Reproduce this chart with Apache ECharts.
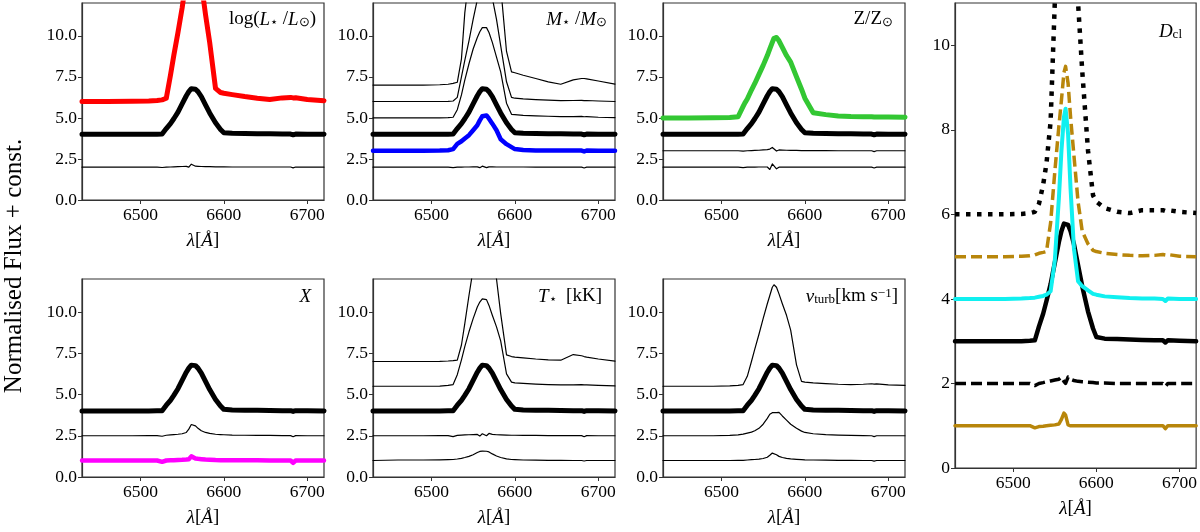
<!DOCTYPE html>
<html>
<head>
<meta charset="utf-8">
<script src="https://cdn.jsdelivr.net/npm/echarts@6/dist/echarts.min.js"></script>
<style>
  html, body { margin: 0; padding: 0; background: #fff; }
  #main { width: 1200px; height: 532px; }
</style>
</head>
<body>
<div id="main"></div>
<script>
// wavelength grid (Angstrom) shared by every profile
var wavelength = [6430, 6460, 6490, 6510, 6520, 6526, 6528, 6531, 6536, 6540, 6545, 6550, 6555, 6558, 6561, 6563, 6566, 6569, 6573, 6578, 6583, 6590, 6596, 6600, 6610, 6625, 6640, 6655, 6670, 6680, 6683, 6686, 6700, 6720];

// normalised flux of the reference model (thick black in every panel)
var baseModel  = [1.00, 1.00, 1.00, 1.00, 1.01, 1.02, 1.05, 1.35, 1.65, 1.95, 2.35, 2.85, 3.35, 3.60, 3.78, 3.80, 3.75, 3.60, 3.30, 2.80, 2.30, 1.70, 1.30, 1.10, 1.06, 1.05, 1.04, 1.03, 1.02, 1.02, 0.97, 1.02, 1.01, 1.00];

// log L
var lumHigh    = [1.00, 1.00, 1.01, 1.03, 1.06, 1.10, 1.13, 1.20, 2.60, 3.80, 5.20, 6.70, 8.50, 9.50, 10.2, 10.5, 10.2, 9.50, 8.20, 6.30, 4.60, 1.80, 1.55, 1.50, 1.42, 1.30, 1.20, 1.12, 1.22, 1.25, 1.22, 1.23, 1.12, 1.05];
var lumLow     = [1.00, 1.00, 1.00, 1.00, 1.00, 0.98, 0.96, 1.00, 1.01, 1.02, 1.03, 1.04, 1.05, 1.00, 1.18, 1.15, 1.06, 1.05, 1.04, 1.03, 1.03, 1.02, 1.02, 1.02, 1.01, 1.01, 1.01, 1.01, 1.01, 1.01, 0.96, 1.01, 1.00, 1.00];

// M
var massA      = [1.00, 1.00, 1.00, 1.02, 1.05, 1.10, 1.13, 1.17, 2.60, 5.40, 7.50, 9.00, 10.0, 10.5, 10.8, 10.9, 10.8, 10.5, 10.0, 9.00, 7.00, 3.05, 1.80, 1.75, 1.60, 1.40, 1.20, 1.05, 1.32, 1.40, 1.40, 1.38, 1.25, 1.06];
var massB      = [1.00, 1.00, 1.00, 1.00, 1.01, 1.03, 1.05, 1.25, 2.50, 3.50, 4.70, 6.00, 7.20, 8.00, 8.50, 8.60, 8.40, 8.00, 7.30, 6.00, 4.40, 2.20, 1.25, 1.20, 1.16, 1.12, 1.08, 1.05, 1.06, 1.07, 1.05, 1.06, 1.03, 1.00];
var massC      = [1.00, 1.00, 1.00, 1.00, 1.02, 1.04, 1.10, 1.50, 2.40, 3.30, 4.30, 5.20, 5.90, 6.25, 6.50, 6.55, 6.50, 6.20, 5.60, 4.70, 3.80, 1.90, 1.22, 1.20, 1.16, 1.13, 1.10, 1.08, 1.08, 1.09, 1.07, 1.08, 1.04, 1.02];
var massLowBlue= [1.00, 1.00, 1.00, 1.01, 1.03, 1.10, 1.20, 1.42, 1.58, 1.75, 1.95, 2.25, 2.55, 2.85, 3.10, 3.20, 3.15, 2.95, 2.65, 2.25, 1.70, 1.40, 1.22, 1.10, 1.04, 1.02, 1.01, 1.01, 1.01, 1.01, 0.96, 1.01, 1.00, 1.00];
var massLow    = [1.00, 1.00, 1.00, 1.00, 1.00, 0.97, 0.96, 1.00, 1.00, 1.01, 1.01, 1.02, 1.02, 0.97, 1.06, 1.02, 0.97, 1.02, 1.02, 1.01, 1.01, 1.01, 1.01, 1.01, 1.01, 1.00, 1.00, 1.00, 1.00, 1.00, 0.95, 1.00, 1.00, 1.00];

// Z
var zHigh      = [1.00, 1.00, 1.01, 1.02, 1.07, 1.70, 1.90, 2.15, 2.70, 3.10, 3.65, 4.20, 4.80, 5.20, 5.60, 5.85, 5.90, 5.70, 5.30, 4.80, 4.40, 3.50, 2.75, 2.20, 1.32, 1.20, 1.12, 1.08, 1.07, 1.07, 1.05, 1.06, 1.05, 1.04];
var zMid       = [1.00, 1.00, 1.00, 1.00, 1.00, 0.98, 0.97, 1.00, 1.01, 1.02, 1.03, 1.05, 1.07, 1.10, 1.20, 1.12, 0.98, 1.05, 1.04, 1.03, 1.02, 1.02, 1.01, 1.01, 1.01, 1.01, 1.00, 1.00, 1.00, 1.00, 0.95, 1.00, 1.00, 1.00];
var zLow       = [1.00, 1.00, 1.00, 1.00, 1.00, 0.97, 0.96, 1.00, 1.00, 1.00, 1.01, 1.01, 1.01, 0.86, 1.20, 1.12, 0.90, 1.00, 1.00, 1.00, 1.00, 1.00, 1.00, 1.00, 1.00, 1.00, 1.00, 1.00, 1.00, 1.00, 0.95, 1.00, 1.00, 1.00];

// X
var xMid       = [1.00, 1.00, 1.00, 1.01, 1.01, 0.97, 0.95, 1.03, 1.05, 1.07, 1.09, 1.12, 1.20, 1.40, 1.68, 1.70, 1.60, 1.45, 1.30, 1.20, 1.14, 1.09, 1.07, 1.06, 1.04, 1.03, 1.02, 1.02, 1.01, 1.01, 0.94, 1.01, 1.00, 1.00];
var xLow       = [1.00, 1.00, 1.00, 1.00, 1.00, 0.92, 0.88, 1.00, 1.01, 1.02, 1.03, 1.04, 1.06, 1.08, 1.25, 1.22, 1.12, 1.10, 1.08, 1.06, 1.05, 1.03, 1.02, 1.02, 1.01, 1.01, 1.01, 1.00, 1.00, 1.00, 0.86, 1.00, 1.00, 1.00];

// T
var tHigh      = [1.00, 1.00, 1.00, 1.01, 1.03, 1.05, 1.06, 1.08, 2.00, 3.30, 5.00, 6.60, 8.00, 8.80, 9.30, 9.40, 9.30, 8.80, 7.50, 6.00, 3.90, 1.40, 1.30, 1.27, 1.22, 1.15, 1.10, 1.08, 1.42, 1.35, 1.30, 1.27, 1.15, 1.02];
var tMid       = [1.00, 1.00, 1.00, 1.01, 1.05, 1.10, 1.15, 1.70, 2.60, 3.40, 4.30, 5.10, 5.80, 6.10, 6.30, 6.35, 6.25, 5.90, 5.30, 4.60, 3.75, 1.75, 1.25, 1.20, 1.17, 1.13, 1.10, 1.08, 1.08, 1.10, 1.08, 1.08, 1.05, 1.02];
var tLowA      = [1.00, 1.00, 1.00, 1.01, 1.01, 0.95, 0.94, 1.02, 1.04, 1.05, 1.06, 1.07, 1.08, 0.98, 1.12, 1.05, 1.00, 1.14, 1.08, 1.06, 1.05, 1.04, 1.03, 1.03, 1.02, 1.02, 1.01, 1.01, 1.01, 1.01, 0.94, 1.01, 1.00, 1.00];
var tLowB      = [1.00, 1.03, 1.03, 1.04, 1.05, 1.06, 1.07, 1.09, 1.13, 1.18, 1.25, 1.35, 1.48, 1.55, 1.57, 1.57, 1.56, 1.52, 1.40, 1.27, 1.18, 1.10, 1.06, 1.05, 1.03, 1.02, 1.01, 1.01, 1.00, 1.00, 0.97, 1.00, 1.00, 1.00];

// v_turb
var vHigh      = [1.00, 1.00, 1.00, 1.02, 1.05, 1.10, 1.20, 1.60, 2.50, 3.25, 4.15, 5.10, 6.00, 6.50, 7.00, 7.15, 7.00, 6.60, 6.00, 5.30, 4.40, 2.30, 1.30, 1.25, 1.20, 1.16, 1.12, 1.10, 1.12, 1.15, 1.13, 1.14, 1.08, 1.05];
var vMid       = [1.00, 1.00, 1.00, 1.02, 1.05, 1.10, 1.12, 1.16, 1.22, 1.30, 1.45, 1.70, 2.05, 2.30, 2.40, 2.38, 2.40, 2.42, 2.20, 1.95, 1.70, 1.45, 1.28, 1.20, 1.12, 1.07, 1.04, 1.02, 1.01, 1.00, 0.95, 1.00, 1.00, 1.00];
var vLow       = [1.00, 1.00, 1.00, 1.00, 1.01, 1.01, 1.00, 1.03, 1.05, 1.06, 1.08, 1.12, 1.20, 1.32, 1.45, 1.44, 1.35, 1.25, 1.18, 1.13, 1.10, 1.07, 1.05, 1.04, 1.03, 1.02, 1.01, 1.01, 1.00, 1.00, 0.96, 1.00, 1.00, 1.00];

// D_cl
var clDotted   = [1.00, 1.00, 1.00, 1.01, 1.03, 1.06, 1.10, 1.25, 1.70, 2.20, 3.20, 6.00, 7.50, 8.50, 9.20, 9.40, 9.20, 8.60, 7.50, 6.00, 4.40, 2.50, 1.45, 1.30, 1.15, 1.06, 1.03, 1.10, 1.10, 1.10, 1.08, 1.10, 1.06, 1.03];
var clGoldDash = [1.00, 1.00, 1.00, 1.01, 1.02, 1.04, 1.05, 1.08, 1.10, 1.12, 1.80, 3.00, 4.10, 4.70, 5.35, 5.50, 5.10, 4.30, 3.40, 2.30, 1.60, 1.30, 1.15, 1.12, 1.08, 1.05, 1.03, 1.02, 1.03, 1.05, 1.04, 1.05, 1.01, 1.00];
var clCyan     = [1.00, 1.00, 1.00, 1.01, 1.02, 1.03, 1.04, 1.05, 1.07, 1.10, 1.18, 1.90, 3.40, 4.50, 5.30, 5.50, 4.90, 3.60, 2.20, 1.42, 1.30, 1.20, 1.12, 1.10, 1.06, 1.04, 1.02, 1.01, 1.01, 1.00, 0.95, 1.01, 1.00, 1.00];
var clBlackDash= [1.00, 1.00, 1.00, 1.00, 1.00, 0.95, 0.92, 1.00, 1.02, 1.04, 1.06, 1.08, 1.10, 1.15, 1.05, 1.00, 1.15, 1.10, 1.07, 1.05, 1.04, 1.03, 1.02, 1.01, 1.01, 1.00, 1.00, 1.00, 1.00, 1.00, 0.93, 1.00, 1.00, 1.00];
var clGold     = [1.00, 1.00, 1.00, 1.00, 1.00, 0.95, 0.93, 0.98, 0.99, 1.00, 1.01, 1.02, 1.04, 1.15, 1.30, 1.25, 1.02, 1.00, 1.00, 1.00, 1.00, 1.00, 1.00, 1.00, 1.00, 1.00, 1.00, 1.00, 1.00, 1.00, 0.93, 1.00, 1.00, 1.00];

var xTicks = [6500, 6600, 6700];
var yTicksSmall = [0, 2.5, 5, 7.5, 10];
var yTicksTall = [0, 2, 4, 6, 8, 10];

var serif = 'Liberation Serif';
var GOLD = '#b8860b';
var SPINE = '#333';

// grid boxes: left, top, width, height
var boxes = [
    [82, 3, 242, 197], [373, 3, 242, 197], [663, 3, 242, 197],
    [82, 279, 242, 198], [373, 279, 242, 198], [663, 279, 242, 198],
    [955, 3, 242, 465]
];

// offset is the "+ const." added to the normalised flux
var lines = [
    { g: 0, flux: lumLow, offset: 1, color: '#000', width: 1.2 },
    { g: 0, flux: baseModel, offset: 3, color: '#000', width: 5 },
    { g: 0, flux: lumHigh, offset: 5, color: '#ff0000', width: 5 },

    { g: 1, flux: massLow, offset: 1, color: '#000', width: 1.2 },
    { g: 1, flux: massLowBlue, offset: 2, color: '#0000ff', width: 4.5 },
    { g: 1, flux: baseModel, offset: 3, color: '#000', width: 5 },
    { g: 1, flux: massC, offset: 4, color: '#000', width: 1.2 },
    { g: 1, flux: massB, offset: 5, color: '#000', width: 1.2 },
    { g: 1, flux: massA, offset: 6, color: '#000', width: 1.2 },

    { g: 2, flux: zLow, offset: 1, color: '#000', width: 1.2 },
    { g: 2, flux: zMid, offset: 2, color: '#000', width: 1.2 },
    { g: 2, flux: baseModel, offset: 3, color: '#000', width: 5 },
    { g: 2, flux: zHigh, offset: 4, color: '#33c733', width: 5 },

    { g: 3, flux: xLow, offset: 0, color: '#ff00ff', width: 4.5 },
    { g: 3, flux: xMid, offset: 1.5, color: '#000', width: 1.2 },
    { g: 3, flux: baseModel, offset: 3, color: '#000', width: 5 },

    { g: 4, flux: tLowB, offset: 0, color: '#000', width: 1.2 },
    { g: 4, flux: tLowA, offset: 1.5, color: '#000', width: 1.2 },
    { g: 4, flux: baseModel, offset: 3, color: '#000', width: 5 },
    { g: 4, flux: tMid, offset: 4.5, color: '#000', width: 1.2 },
    { g: 4, flux: tHigh, offset: 6, color: '#000', width: 1.2 },

    { g: 5, flux: vLow, offset: 0, color: '#000', width: 1.2 },
    { g: 5, flux: vMid, offset: 1.5, color: '#000', width: 1.2 },
    { g: 5, flux: baseModel, offset: 3, color: '#000', width: 5 },
    { g: 5, flux: vHigh, offset: 4.5, color: '#000', width: 1.2 },

    { g: 6, flux: clGold, offset: 0, color: GOLD, width: 3.5 },
    { g: 6, flux: clBlackDash, offset: 1, color: '#000', width: 3.5, type: [11, 5], cap: 'butt' },
    { g: 6, flux: baseModel, offset: 2, color: '#000', width: 4.5 },
    { g: 6, flux: clCyan, offset: 3, color: '#10f0f0', width: 4 },
    { g: 6, flux: clGoldDash, offset: 4, color: GOLD, width: 3.5, type: [11, 5], cap: 'butt' },
    { g: 6, flux: clDotted, offset: 5, color: '#000', width: 4.5, type: [4.5, 6.5], cap: 'butt' }
];

var rich = {
    r: { fontFamily: serif, fontSize: 19, color: '#000' },
    i: { fontFamily: serif, fontSize: 19, fontStyle: 'italic', color: '#000' },
    s: { fontFamily: serif, fontSize: 13, color: '#000', verticalAlign: 'bottom', lineHeight: 12 },
    sup: { fontFamily: serif, fontSize: 13, color: '#000', verticalAlign: 'top', lineHeight: 12 }
};

var labels = [
    { text: '{r|log(}{i|L}{s|⋆}{r| /}{i|L}{s|⊙}{r|)}', right: 884, top: 10 },
    { text: '{i|M}{s|⋆}{r| /}{i|M}{s|⊙}', right: 593, top: 10 },
    { text: '{r|Z/Z}{s|⊙}', right: 307, top: 10 },
    { text: '{i|X}', right: 889, top: 287 },
    { text: '{i|T}{s|⋆}{r|  [kK]}', right: 598, top: 287 },
    { text: '{i|v}{s|turb}{r|[km s}{sup|−1}{r|]}', right: 302, top: 287 },
    { text: '{i|D}{s|cl}', right: 18, top: 22 }
];

var chartDom = document.getElementById('main');
var myChart = echarts.init(chartDom, null, { renderer: 'canvas' });

var grids = [], xAxes = [], yAxes = [];
boxes.forEach(function (b, k) {
    grids.push({
        left: b[0], top: b[1], width: b[2], height: b[3],
        show: true, borderColor: SPINE, borderWidth: 1.2, backgroundColor: 'transparent'
    });
    xAxes.push({
        type: 'value', gridIndex: k, min: 6430, max: 6720,
        name: '{i|λ}{r|[}{i|Å}{r|]}', nameLocation: 'middle', nameGap: 31,
        nameTextStyle: {
            rich: {
                i: { fontFamily: serif, fontSize: 19, fontStyle: 'italic', color: '#000' },
                r: { fontFamily: serif, fontSize: 19, color: '#000' }
            }
        },
        axisLine: { show: true, onZero: false, lineStyle: { color: SPINE, width: 1.2 } },
        axisTick: { show: true, length: 4, customValues: xTicks, lineStyle: { color: SPINE } },
        axisLabel: {
            customValues: xTicks, fontFamily: serif, fontSize: 17.5, color: '#000', margin: 6,
            formatter: function (v) { return String(v); }
        },
        splitLine: { show: false }
    });
    var tall = k === 6;
    yAxes.push({
        type: 'value', gridIndex: k, min: 0, max: tall ? 11 : 12,
        axisLine: { show: true, onZero: false, lineStyle: { color: SPINE, width: 1.2 } },
        axisTick: { show: true, length: 4, customValues: tall ? yTicksTall : yTicksSmall, lineStyle: { color: SPINE } },
        axisLabel: {
            customValues: tall ? yTicksTall : yTicksSmall,
            fontFamily: serif, fontSize: 17.5, color: '#000', margin: 5,
            formatter: function (v) { return tall ? String(v) : v.toFixed(1); }
        },
        splitLine: { show: false }
    });
});

var series = lines.map(function (ln) {
    return {
        type: 'line',
        xAxisIndex: ln.g, yAxisIndex: ln.g,
        showSymbol: false, symbol: 'none', silent: true, clip: true,
        lineStyle: {
            color: ln.color, width: ln.width, type: ln.type || 'solid',
            cap: ln.cap || 'round', join: 'round'
        },
        data: wavelength.map(function (w, i) { return [w, +(ln.flux[i] + ln.offset).toFixed(3)]; })
    };
});

var option = {
    animation: false,
    backgroundColor: '#fff',
    textStyle: { fontFamily: serif },
    title: labels.map(function (lb) {
        return { text: lb.text, right: lb.right, top: lb.top, padding: 0, textStyle: { rich: rich, fontFamily: serif, fontSize: 19, fontWeight: 'normal', color: '#000' } };
    }),
    grid: grids,
    xAxis: xAxes,
    yAxis: yAxes,
    series: series,
    graphic: [{
        type: 'text', x: 14, y: 266, rotation: Math.PI / 2,
        style: {
            text: 'Normalised Flux + const.', fontFamily: serif, fontSize: 25,
            fill: '#000', align: 'center', verticalAlign: 'middle'
        }
    }]
};
option && myChart.setOption(option);
</script>
</body>
</html>
